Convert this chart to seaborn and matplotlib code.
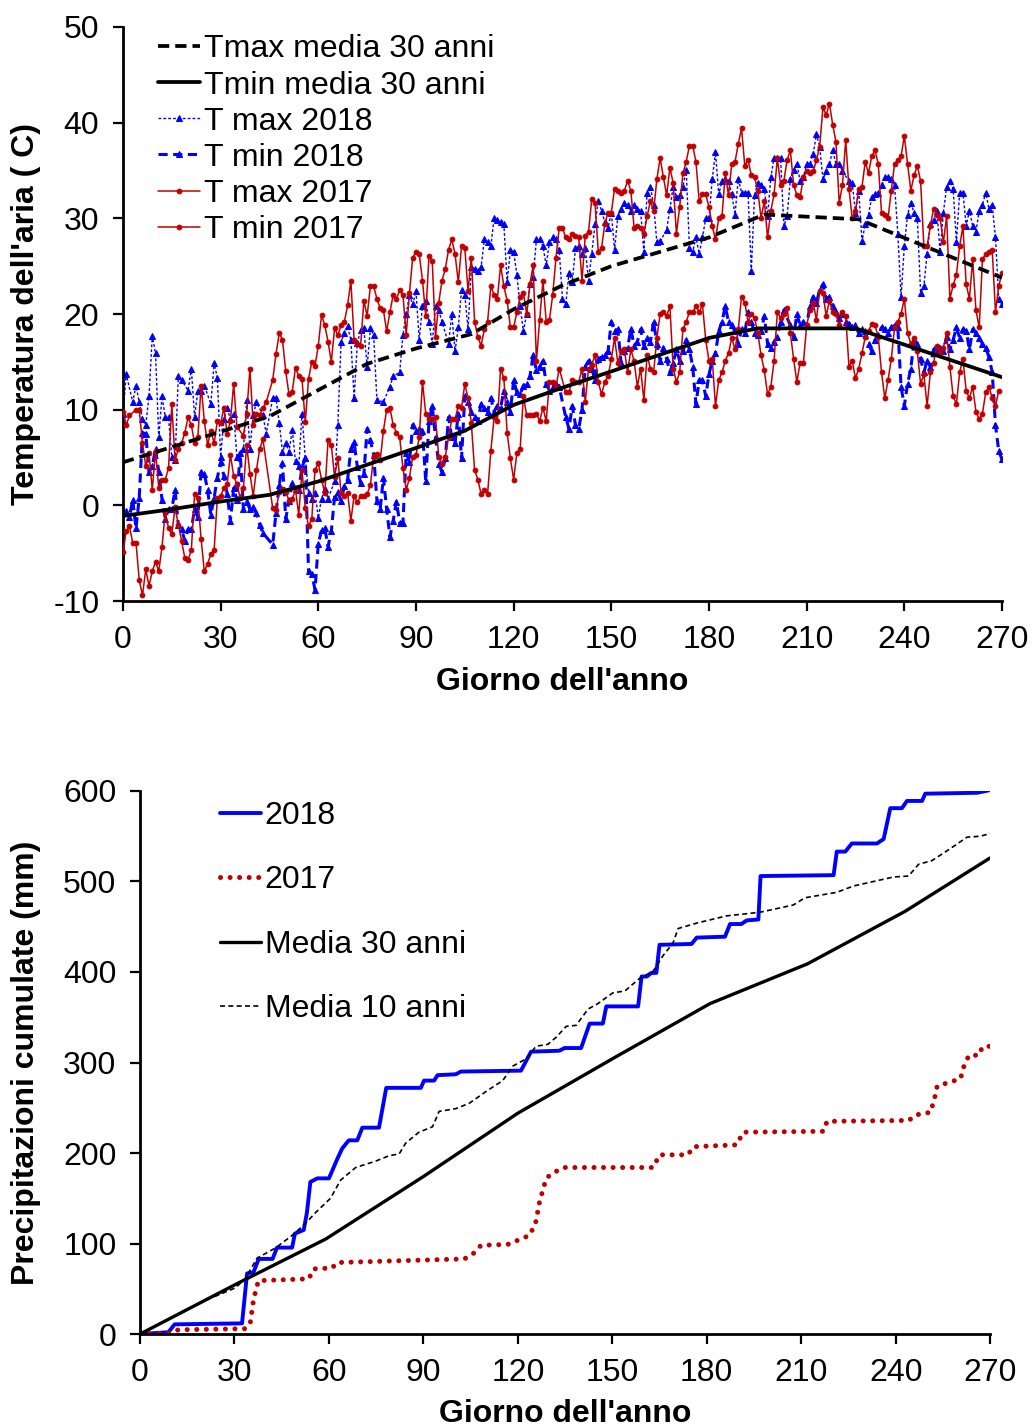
import numpy as np
import pandas as pd
import seaborn as sns
import matplotlib
matplotlib.use("Agg")
import matplotlib.pyplot as plt

# ---------------- top panel: air temperature (day of year) ----------------
tmax_media_days = [0, 45, 75, 90, 107, 120, 135, 150, 180, 197, 226, 270]
tmax_media = [4.5, 9.3, 14.8, 16.4, 17.9, 20.5, 23.0, 25.0, 28.0, 30.4, 29.9, 23.8]
tmin_media_days = [0, 15, 30, 45, 60, 90, 105, 120, 135, 150, 180, 195, 225, 270]
tmin_media = [-1.1, -0.4, 0.4, 1.1, 2.5, 6.0, 7.8, 10.5, 12.3, 14.0, 17.5, 18.5, 18.5, 13.4]

tmax18_days = ([0, 1] + list(range(3, 19)) + list(range(20, 26)) + list(range(27, 36))
               + list(range(37, 42)) + [43, 44] + list(range(46, 64)) + list(range(65, 79))
               + [80, 82, 83] + list(range(85, 99)) + list(range(100, 166))
               + list(range(167, 222)) + list(range(223, 271)))
tmax18 = [9.5, 13.7, 10.8, 12.5, 10.8, 9.0, 8.4, 11.4, 17.7, 15.9, 7.1, 11.4, 9.2, 9.2, 5.1, 4.7,
          13.5, 13.1, 12.0, 14.3, 9.2, 12.0, 12.0, 12.5, 10.6, 14.9, 13.3, 5.1, 9.0, 10.2, 9.0, 9.6,
          5.1, 5.9, 11.0, 5.9, 9.4, 10.8, 9.4, 7.5,
          11.2, 11.2, 8.6, 5.6, 6.5, 5.6, 7.9, 4.6, 4.1, 9.6, 4.9, 1.3, 0.7, 1.3, -1.3, 0.7, 1.7, 0.7,
          2.5, 8.4, 17.1, 18.0, 18.7, 17.3, 11.2, 17.0, 18.3, 18.5, 14.5, 18.5, 17.8, 11.0,
          10.8, 12.4, 13.5, 13.9, 17.8, 20.0, 22.0, 21.0, 22.4, 17.3, 20.8, 21.4, 19.2, 16.9, 20.8,
          20.4, 19.2, 16.9, 20.0, 16.1, 18.6, 22.5, 22.0, 18.4, 24.9, 24.7, 24.5, 24.9, 27.8, 27.5,
          27.1, 30.0, 29.8, 29.6, 29.4, 23.3, 26.7, 26.5, 24.1, 20.8, 18.2, 20.0, 23.1, 23.9, 27.8,
          27.8, 27.1, 25.1, 27.5, 28.0, 27.8,
          26.7, 21.6, 21.0, 24.3, 23.3, 26.9, 27.1, 26.3, 26.9, 23.5, 26.3, 29.4, 31.8, 30.8, 29.6,
          29.0, 30.6, 26.7, 30.2, 31.0, 31.6, 31.4, 30.8, 31.4, 31.0, 30.8, 26.5, 32.7, 33.3, 31.4,
          27.5, 27.6,
          28.8, 31.0, 33.3, 32.2, 32.4, 33.3, 35.1, 26.9, 26.5, 28.0, 26.3, 28.0, 30.0, 30.0, 34.1,
          36.9, 32.5, 33.9, 34.1, 33.9, 32.5, 30.4, 34.1, 32.7, 32.7, 32.7, 24.5, 32.4, 33.7, 33.5,
          33.1, 30.2, 34.3, 36.3, 36.3, 36.3, 29.2, 30.2, 34.1, 35.1, 35.7, 33.9, 34.3, 35.7, 35.7,
          36.7, 38.8, 37.5, 34.1, 34.9, 35.7, 37.1, 35.7, 35.7, 34.9,
          33.9, 33.7, 30.6, 32.9, 27.6, 29.4, 30.4, 32.2, 32.5, 32.7, 33.5, 34.3, 34.3, 34.1, 33.5,
          28.4, 21.8, 27.1, 30.4, 31.6, 30.6, 30.0, 22.2, 22.9, 26.3, 29.4, 29.8, 30.8, 26.5, 30.6,
          33.3, 33.9, 33.1, 27.5, 32.7, 32.7, 29.2, 30.8, 29.2, 28.6, 30.8, 31.4, 32.7, 31.0, 31.4,
          28.0, 21.6, 21.0]

tmin18_days = list(range(0, 44)) + list(range(46, 135)) + list(range(136, 204)) + list(range(205, 271))
tmin18 = [-0.8, -0.6, -1.2, 0.6, -2.4, 0.8, 7.6, 7.5, 3.5, 4.1, 5.9, 3.5, 0.6, -1.4, -0.4, -0.4,
          1.6, -2.0, -2.5, -3.7, -2.5, -2.5, -0.4, -1.2, 3.5, 3.3, 1.6, -1.0, 0.8, 2.9, 4.5, 3.1,
          1.2, -1.6, 1.8, 0.6, 5.5, -0.4, 0.4, -0.4, -0.2, -0.8, -2.0, -2.9,
          -4.1, -0.8, 2.1, 4.4, -1.4, 0.5, 2.3, 1.7, 1.6, 4.0, 4.9, -6.9, -7.2, -8.8, -4.0, -2.6,
          -2.4, -4.3, -2.7, 0.9, 1.4, 0.5, 2.0, 2.7, 5.9, 6.6, 4.0, 2.3, 3.3, 8.0, 6.8, 5.3, 0.5,
          -0.4, 2.9, -0.4, -3.3, -1.6, 0.4, -1.8, -1.8, 5.5, 4.5, 8.4, 7.8, 8.0, 7.8, 2.5, 8.8,
          10.4, 7.1, 4.3, 3.5, 4.9, 9.2, 7.1, 6.5, 9.6, 4.9, 11.4, 10.8, 9.8, 9.2, 8.8, 10.6,
          10.2, 9.8, 11.2, 9.8, 10.4, 10.2, 12.0, 10.8, 9.8, 13.1, 11.8, 11.6, 12.5, 12.7, 13.5,
          15.7, 14.1, 14.5, 15.1, 12.7, 12.0, 12.4, 12.7, 12.4,
          9.2, 8.0, 10.4, 8.4, 8.0, 10.0, 14.5, 15.1, 14.3, 13.1, 15.3, 15.5, 15.7, 16.1, 19.2,
          18.2, 18.4, 14.9, 16.1, 16.5, 18.4, 16.7, 17.1, 18.4, 16.7, 17.5, 17.1, 19.2, 16.9, 15.1,
          16.5, 15.3, 13.9, 14.9, 16.3, 15.1, 16.1, 17.3, 16.3, 14.5, 10.6, 13.1, 13.1, 11.4, 13.7,
          15.1, 15.9, 18.2, 19.2, 20.8, 19.2, 18.8, 18.2, 16.9, 18.4, 18.0, 20.2, 19.2, 18.0, 17.8,
          18.2, 19.8, 16.9, 16.5, 17.1, 17.6, 19.2, 20.4,
          18.8, 17.6, 20.0, 18.8, 19.2, 18.8, 20.8, 21.8, 21.2, 22.5, 23.1, 21.6, 21.8, 20.8, 20.2,
          19.6, 20.0, 19.2, 19.0, 18.6, 18.8, 18.0, 18.4, 18.2, 16.9, 16.1, 17.3, 17.8, 18.6, 18.4,
          18.0, 18.6, 18.8, 18.6, 12.4, 10.4, 12.7, 14.3, 17.3, 16.9, 15.3, 13.9, 15.1, 14.5, 16.3,
          16.1, 16.5, 16.1, 17.6, 16.3, 17.3, 18.6, 17.5, 18.4, 18.2, 16.3, 18.4, 18.0, 17.5, 16.9,
          16.5, 15.5, 13.9, 8.4, 5.7, 4.8]

tmax17_days = [0, 1, 2] + list(range(4, 36)) + list(range(37, 45)) + list(range(46, 271))
tmax17 = [9.8, 8.4, 9.4, 10.0, 10.0, 6.5, 4.1, 5.5, 1.6, 5.7, 1.8, 2.7, 2.7, 3.9, 10.6, 4.7, 5.9,
          6.5, 7.6, 9.2, 8.4, 6.5, 7.1, 12.5, 8.8, 6.3, 7.8, 6.5, 8.8, 8.6, 10.2, 7.5, 8.8, 12.7,
          8.2, 7.3, 9.6, 14.3, 8.4, 9.6, 9.4, 10.2, 10.8,
          13.1, 15.8, 18.0, 17.3, 14.0, 11.6, 11.9, 14.4, 13.5, 13.2, 8.7, 13.2, 15.0, 14.6, 16.7,
          19.9, 18.8, 17.1, 15.0, 18.5, 17.8, 18.8, 19.2, 20.9,
          23.5, 17.3, 16.9, 16.7, 21.4, 19.8, 22.9, 22.9, 21.6, 20.6, 20.4, 18.2, 20.2, 22.0, 21.6,
          22.5, 22.0, 17.8, 22.2, 25.9, 26.5, 26.3, 23.5, 19.8, 26.1, 25.5, 17.6, 21.2, 23.5, 24.7,
          26.7, 27.8, 26.3, 23.3, 27.1, 26.9, 22.4, 25.9, 19.2, 17.6, 16.7, 18.4, 19.2, 22.9, 22.0,
          21.6, 25.1, 22.9, 21.4, 18.6, 18.6, 20.2, 21.8, 22.2, 20.0, 23.1, 25.1, 15.1, 19.4, 23.5,
          19.2, 19.4, 22.0, 25.9, 29.0, 29.0,
          28.0, 27.8, 28.4, 28.2, 28.0, 23.5, 28.2, 28.6, 32.0, 31.6, 26.5, 26.9, 29.4, 30.6, 30.6,
          33.1, 32.9, 32.7, 32.9, 33.9, 32.9, 29.0, 29.2, 29.0, 28.4, 30.2, 31.8, 30.8, 34.1, 36.3,
          34.3, 32.4, 35.3, 33.7, 28.4, 31.2, 34.7, 35.9, 37.6, 37.6, 35.9, 31.8, 32.5, 32.5, 31.2,
          29.2, 27.8, 30.0, 30.2, 34.7, 32.4, 35.7, 35.9, 37.8, 39.4, 35.5, 36.1, 34.5, 34.3, 32.9,
          30.0, 31.8, 28.0, 30.8, 32.5, 36.3, 33.5, 33.9,
          36.1, 37.1, 33.5, 32.4, 32.2, 34.3, 34.9, 34.7, 34.9, 36.1, 37.5, 41.6, 40.8, 42.0, 39.8,
          38.0, 31.6, 33.5, 38.2, 33.1, 30.0, 30.8, 33.1, 33.3, 35.9, 34.7, 36.5, 37.1, 35.7, 30.6,
          30.4, 30.0, 32.9, 35.7, 36.1, 36.5, 38.6, 35.7, 32.9, 34.5, 35.5, 33.9, 27.1, 27.1, 29.2,
          31.0, 30.4, 30.0, 27.5, 30.2, 21.6, 23.0, 24.1, 27.1, 29.2, 23.1, 21.6, 25.7, 20.4, 18.6,
          25.7, 26.3, 26.5, 26.7, 20.2, 22.9, 24.3]

tmin17_days = list(range(0, 44)) + list(range(46, 135)) + list(range(136, 270))
tmin17 = [-4.9, -2.7, -2.2, -3.9, -3.9, -7.8, -9.4, -6.7, -8.4, -6.9, -5.9, -6.9, -4.3, -0.7,
          -2.4, -3.0, -0.2, -2.0, -3.7, -5.5, -5.7, -4.7, 1.2, 0.8, -3.5, -6.9, -6.1, -5.1, -4.7,
          0.8, 1.0, 1.8, 2.2, 5.3, 3.1, 2.2, 0.8, 1.8, 6.3, 3.3, 1.0, 3.7, 5.9, 6.9,
          -0.3, -0.5, 1.4, 1.7, 1.4, 0.5, 0.7, 1.6, -1.0, 3.7, -0.3, -2.2, -1.4, 3.7, 4.4, 2.7, 1.3,
          6.8, 6.3, 3.0, 4.9, 1.3, 1.0, 1.3, -1.6, 1.0, 0.3, 1.0, 1.0, 1.2, 2.1, 5.2, 5.4,
          4.7, 7.8, 10.0, 10.2, 8.4, 7.6, 7.1, 3.9, 1.6, 2.9, 5.1, 5.3, 7.1, 12.9, 9.6, 9.0, 9.0,
          9.2, 5.1, 4.3, 5.1, 7.1, 9.0, 9.0, 10.4, 10.2, 12.7, 11.2, 8.6, 3.7, 2.7, 1.2, 1.6, 1.2,
          5.7, 9.2, 8.8, 14.3, 13.3, 7.6, 4.9, 2.7, 5.5, 5.9, 11.4, 9.4, 9.4, 9.4, 9.6, 8.8, 10.2,
          8.8, 12.9, 12.9, 12.4, 14.3,
          11.8, 11.8, 13.1, 12.9, 12.9, 14.3, 10.8, 14.3, 14.7, 15.7, 12.9, 11.6, 12.9, 13.5, 15.3,
          17.5, 14.9, 16.1, 16.3, 13.9, 16.3, 15.1, 12.4, 14.3, 11.0, 15.7, 14.3, 13.9, 17.5, 20.0,
          20.2, 19.8, 20.8, 14.3, 12.9, 13.9, 18.4, 19.2, 20.2, 20.2, 20.8, 20.2, 21.0, 17.3, 15.1,
          15.3, 10.4, 13.1, 13.9, 15.1, 15.9, 17.5, 16.3, 18.4, 21.8, 21.2, 19.2, 20.0, 19.6, 18.0,
          15.7, 14.1, 11.6, 12.4, 15.1, 20.2, 19.6, 20.0,
          20.6, 18.0, 15.3, 12.9, 14.9, 14.9, 18.8, 20.4, 21.2, 19.4, 22.4, 22.2, 19.8, 21.4, 20.2,
          20.0, 18.8, 20.2, 19.8, 14.5, 15.1, 13.3, 14.3, 15.9, 17.6, 18.2, 19.0, 18.8, 17.6, 13.9,
          11.2, 13.1, 15.3, 18.6, 19.2, 20.0, 21.6, 18.0, 16.9, 17.5, 16.1, 12.7, 13.7, 10.4, 13.9,
          14.9, 16.7, 15.9, 16.5, 18.0, 14.5, 11.4, 10.6, 13.9, 15.3, 12.0, 11.2, 12.4, 9.8, 9.0,
          9.6, 11.8, 12.4, 11.2, 10.4, 12.0]

# ---------------- bottom panel: cumulative rainfall ----------------
rain18_days = [0, 9, 11, 32.4, 34, 36, 37.7, 42.1, 43.5, 48.3, 49.2, 52, 53, 54.1, 56.3, 60, 62.6,
               64.2, 66.3, 69, 70.6, 75.9, 78.2, 89.2, 90.2, 93.4, 94.5, 100.3, 101.9, 121, 124.2,
               133.2, 134.8, 140.1, 142.8, 147, 148.1, 158.2, 159.3, 161, 162.4, 164, 165, 175.2,
               176.8, 185.8, 187.4, 191, 192.7, 196.4, 197.1, 220.3, 221.3, 224, 226.1, 234.1,
               236.2, 238.3, 242, 243.6, 248.4, 249.4, 265.9, 270]
rain18 = [0, 2, 10.7, 11.8, 67, 68, 83, 83, 95.5, 95.5, 111, 115, 134, 168, 172, 172, 193, 205,
          214, 214, 228, 228, 272, 272, 280, 280, 286, 287, 290, 291, 312, 313, 316, 316, 343, 343,
          362, 362, 395, 395, 399, 399, 430, 431, 438, 439, 453, 453, 457, 458, 506, 507, 533, 533,
          542, 542, 547, 581, 581, 589, 589, 597, 598, 601]
rain17_days = [0, 9, 12.2, 33.4, 35, 36.1, 37.6, 53.6, 55.2, 61, 62.6, 103, 105.6, 108.3, 116.8,
               123.7, 125.6, 126.9, 129, 131.1, 134.8, 163, 165, 174, 175.8, 189.5, 191.6, 217.1,
               218.2, 244.2, 246.3, 251.1, 252.7, 253.2, 260.6, 261.7, 263.3, 266.5, 267.5, 270]
rain17 = [0, 0.8, 4.7, 5.9, 12, 39, 59, 61, 72, 73, 79, 83, 88, 98, 99, 109, 122, 146, 172, 178,
          184, 184, 198, 198, 207, 209, 223, 224, 235, 236, 242, 245, 265, 274, 282, 296, 308, 308,
          317, 318]
media30_days = [0, 31, 59, 90, 120, 151, 181, 212, 243, 270]
media30 = [0, 56, 105, 174, 244, 306, 365, 409, 467, 526]
media10_days = [0, 9, 19.6, 30.3, 33.4, 37.2, 43, 48.3, 52.5, 55.7, 60.5, 63.7, 68.5, 74.8, 79.1,
                82.3, 84.4, 88.6, 92.9, 95, 100.3, 104.6, 109.9, 115.2, 118.4, 122.6, 125.8, 129.5,
                132.2, 135.4, 138.5, 142.3, 145.4, 150.2, 154, 158.7, 163, 166.1, 169.3, 170.9,
                176.8, 186.3, 196.9, 207.5, 211.2, 221.3, 226.6, 239.4, 244.1, 247.3, 251.5, 256.8,
                262.7, 266.9, 270]
media10 = [0, 16, 35.5, 51, 61, 84, 95, 109, 122, 134, 150, 170, 184, 191, 197, 199, 211, 223, 229,
           246, 249, 255, 268, 280, 296, 304, 318, 320, 328, 340, 341, 359, 365, 377, 379, 393, 401,
           418, 432, 448, 454, 462, 466, 474, 482, 488, 495, 505, 506, 519, 523, 535, 549, 550, 553]

BLUE = "#0000FF"
RED = "#C00000"
FS = 23

sns.set_theme(style="ticks")
plt.rcParams["font.family"] = ["Liberation Sans", "DejaVu Sans"]
plt.rcParams["axes.linewidth"] = 2.0
plt.rcParams["axes.unicode_minus"] = False
plt.rcParams["text.color"] = "black"
plt.rcParams["axes.labelcolor"] = "black"

fig = plt.figure(figsize=(10.35, 14.28), dpi=100)
ax1 = fig.add_axes([0.1188, 0.5791, 0.8493, 0.4020])
ax2 = fig.add_axes([0.1353, 0.0658, 0.8213, 0.3803])

def line(ax, x, y, **kw):
    sns.lineplot(x=x, y=y, ax=ax, estimator=None, errorbar=None, sort=False, **kw)

# top panel
line(ax1, tmax_media_days, tmax_media, color="black", linewidth=2.7,
     linestyle=(0, (3, 1.6)), label="Tmax media 30 anni", zorder=4)
line(ax1, tmin_media_days, tmin_media, color="black", linewidth=2.7,
     label="Tmin media 30 anni", zorder=4)
line(ax1, tmax18_days, tmax18, color=BLUE, linewidth=1.0, linestyle=(0, (2, 1.5)),
     marker="^", markersize=4, markeredgecolor=BLUE, label="T max 2018", zorder=2)
line(ax1, tmin18_days, tmin18, color=BLUE, linewidth=2.2, linestyle=(0, (3, 1.8)),
     marker="^", markersize=4.5, markeredgecolor=BLUE, label="T min 2018", zorder=2)
line(ax1, tmax17_days, tmax17, color=RED, linewidth=1.1, marker="o", markersize=3.4,
     markeredgecolor=RED, label="T max 2017", zorder=3)
line(ax1, tmin17_days, tmin17, color=RED, linewidth=1.1, marker="o", markersize=3.4,
     markeredgecolor=RED, label="T min 2017", zorder=3)

ax1.set_xlim(0, 270)
ax1.set_ylim(-10, 50)
ax1.set_xticks(range(0, 271, 30))
ax1.set_yticks(range(-10, 51, 10))
ax1.set_xlabel("Giorno dell'anno", fontsize=FS, fontweight="bold")
ax1.set_ylabel("Temperatura dell'aria ( C)", fontsize=FS, fontweight="bold")
ax1.xaxis.set_label_coords(0.5, -0.115)
ax1.yaxis.set_label_coords(-0.093, 0.5)
ax1.legend(loc="upper left", bbox_to_anchor=(0.04, 0.987), frameon=False, fontsize=FS,
           handlelength=1.3, handletextpad=0.15, labelspacing=0.19, borderaxespad=0,
           borderpad=0)

# bottom panel
line(ax2, rain18_days, rain18, color=BLUE, linewidth=2.8, label="2018")
line(ax2, rain17_days, rain17, color=RED, linewidth=3.6, linestyle=(0, (0.01, 1.9)),
     dash_capstyle="round", label="2017")
line(ax2, media30_days, media30, color="black", linewidth=2.4, label="Media 30 anni")
line(ax2, media10_days, media10, color="black", linewidth=1.2, linestyle=(0, (3, 2)),
     label="Media 10 anni")

ax2.set_xlim(0, 270)
ax2.set_ylim(0, 600)
ax2.set_xticks(range(0, 271, 30))
ax2.set_yticks(range(0, 601, 100))
ax2.set_xlabel("Giorno dell'anno", fontsize=FS, fontweight="bold")
ax2.set_ylabel("Precipitazioni cumulate (mm)", fontsize=FS, fontweight="bold")
ax2.xaxis.set_label_coords(0.5, -0.12)
ax2.yaxis.set_label_coords(-0.117, 0.5)
ax2.legend(loc="upper left", bbox_to_anchor=(0.094, 0.982), frameon=False, fontsize=FS,
           handlelength=1.3, handletextpad=0.1, labelspacing=1.08, borderaxespad=0,
           borderpad=0)

for ax in (ax1, ax2):
    sns.despine(ax=ax)
    ax.tick_params(axis="both", labelsize=FS, length=7, width=1.6, direction="out",
                   color="black", labelcolor="black")
    ax.tick_params(axis="x", pad=10)
    ax.tick_params(axis="y", pad=10)
    for s in ("left", "bottom"):
        ax.spines[s].set_color("black")
        ax.spines[s].set_linewidth(2.0)

fig.savefig("out.png", dpi=100)
